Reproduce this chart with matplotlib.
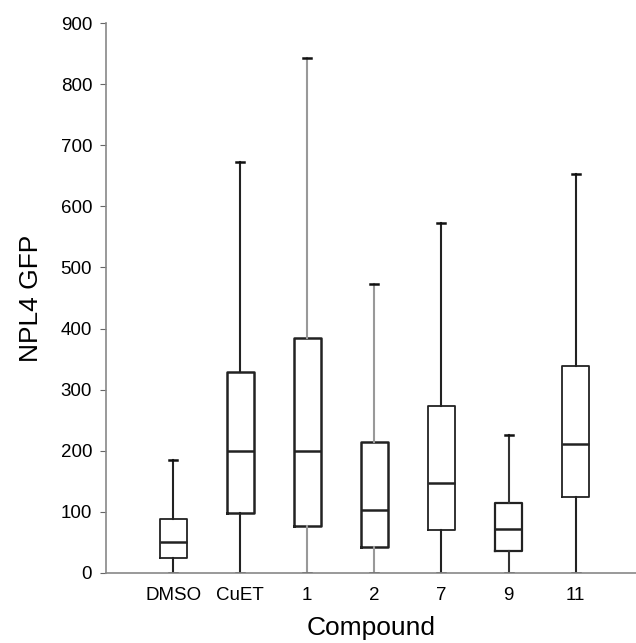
import matplotlib.pyplot as plt

plt.rcParams['font.family'] = ['Liberation Sans', 'DejaVu Sans']

# Box plot summary values
compounds = ['DMSO', 'CuET', '1', '2', '7', '9', '11']
whislo = [0, 0, 0, 0, 0, 0, 0]
q1 = [24, 98, 77, 42, 70, 36, 124]
median = [50, 199, 200, 103, 147, 72, 211]
q3 = [89, 329, 384, 214, 274, 115, 338]
whishi = [185, 672, 843, 473, 573, 226, 653]

stats = []
for i, name in enumerate(compounds):
    stats.append({'label': name, 'whislo': whislo[i], 'q1': q1[i], 'med': median[i],
                  'q3': q3[i], 'whishi': whishi[i], 'fliers': []})

fig = plt.figure(figsize=(6.36, 6.43), dpi=100)
ax = fig.add_axes([0.1667, 0.109, 0.8333, 0.855])

positions = list(range(1, len(compounds) + 1))
bp = ax.bxp(stats, positions=positions, widths=0.4, showfliers=False,
            capwidths=0.12, patch_artist=False)

# line styles vary a bit between boxes in the original
whisk_col = ['#222222', '#222222', '#999999', '#999999', '#222222', '#333333', '#222222']
box_lw = [1.3, 1.8, 1.8, 1.8, 1.3, 1.6, 1.3]
for i in range(len(compounds)):
    bp['boxes'][i].set(color='#222222', linewidth=box_lw[i])
    bp['medians'][i].set(color='#222222', linewidth=1.8)
    for w in bp['whiskers'][2 * i:2 * i + 2]:
        w.set(color=whisk_col[i], linewidth=1.5)
    for c in bp['caps'][2 * i:2 * i + 2]:
        c.set(color='#111111', linewidth=1.8)

ax.set_xlim(0, 7.9)
ax.set_ylim(0, 900)
ax.set_yticks(range(0, 901, 100))
ax.tick_params(axis='y', labelsize=13.5, length=4, color='#666666', pad=6)
ax.tick_params(axis='x', labelsize=13.5, length=0, pad=10)

for s in ['top', 'right']:
    ax.spines[s].set_visible(False)
for s in ['left', 'bottom']:
    ax.spines[s].set_color('#888888')
    ax.spines[s].set_linewidth(1.2)

ax.set_ylabel('NPL4 GFP', fontsize=19, labelpad=13)
ax.set_xlabel('Compound', fontsize=19, labelpad=9)

fig.savefig('out.png', dpi=100)
